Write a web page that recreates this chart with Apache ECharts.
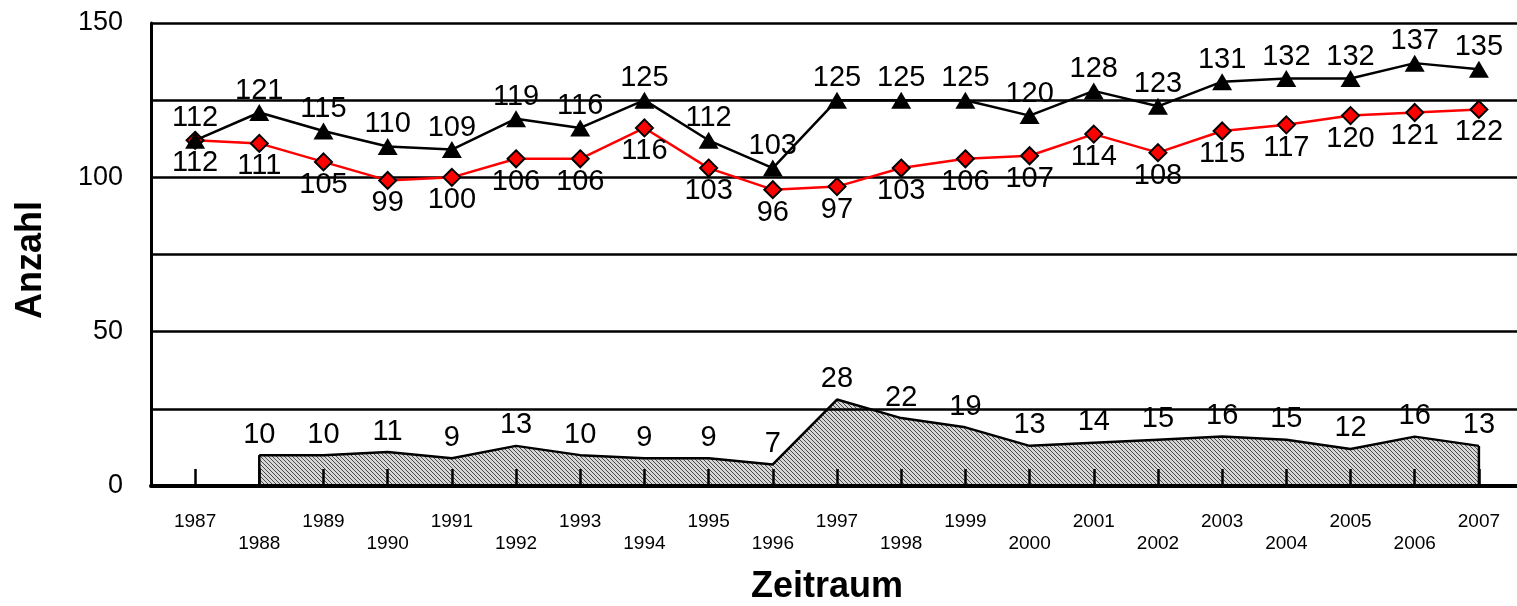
<!DOCTYPE html>
<html lang="de">
<head>
<meta charset="UTF-8">
<title>Anzahl je Zeitraum</title>
<style>
  html, body { margin: 0; padding: 0; background: #fff; }
  #chart { width: 1517px; height: 606px; }
</style>
</head>
<body>
<div id="chart"></div>
<script src="https://cdn.jsdelivr.net/npm/echarts@6/dist/echarts.min.js"></script>
<script>
// Daten
var jahre = ['1987','1988','1989','1990','1991','1992','1993','1994','1995','1996','1997',
             '1998','1999','2000','2001','2002','2003','2004','2005','2006','2007'];
var gesamt = [112,121,115,110,109,119,116,125,112,103,125,125,125,120,128,123,131,132,132,137,135];
var rot    = [112,111,105,99,100,106,106,116,103,96,97,103,106,107,114,108,115,117,120,121,122];
var flaeche = [null,10,10,11,9,13,10,9,9,7,28,22,19,13,14,15,16,15,12,16,13];
var yTicks = [0, 50, 100, 150];

var font = "'Liberation Sans', Arial, sans-serif";

// schraffur fuer die flaeche
function schraffur() {
  var c = document.createElement('canvas');
  c.width = 4; c.height = 4;
  var ctx = c.getContext('2d');
  ctx.fillStyle = '#d6d6d6';
  ctx.fillRect(0, 0, 4, 4);
  ctx.fillStyle = '#4a4a4a';
  for (var i = 0; i < 4; i++) ctx.fillRect(i, i, 1, 1);
  return c;
}

// nur erster und letzter wert -> senkrechte kanten der flaeche
var kanten = flaeche.map(function (v, i) {
  var first = flaeche.findIndex(function (x) { return x != null; });
  return (i === first || i === flaeche.length - 1) ? v : null;
});

var chart = echarts.init(document.getElementById('chart'));
var option = {
  animation: false,
  grid: [
    { left: 151, right: 0, top: 23, bottom: 120 },
    { left: 163, right: 6, top: 23, bottom: 120 }
  ],
  xAxis: [
    {
      gridIndex: 0, type: 'value', min: 0, max: 1, z: 3,
      axisLine: { show: true, lineStyle: { color: '#000', width: 4 } },
      axisTick: { show: false }, axisLabel: { show: false }, splitLine: { show: false }
    },
    {
      gridIndex: 1, type: 'category', data: jahre, boundaryGap: true, z: 3,
      axisLine: { show: false },
      axisTick: { show: true, inside: true, length: 17, alignWithLabel: true,
                  lineStyle: { color: '#000', width: 2.5 } },
      axisLabel: {
        interval: 0, margin: 25, color: '#000', fontSize: 19, fontFamily: font, lineHeight: 22,
        formatter: function (v, i) { return i % 2 ? '\n' + v : v; }
      }
    }
  ],
  yAxis: [
    {
      gridIndex: 0, type: 'value', min: 0, max: 150, interval: 25, z: 3,
      axisLine: { show: true, lineStyle: { color: '#000', width: 3 } },
      axisTick: { show: false },
      axisLabel: {
        margin: 28, color: '#000', fontSize: 27, fontFamily: font,
        formatter: function (v) { return yTicks.indexOf(v) >= 0 ? v : ''; }
      },
      splitLine: { show: true, lineStyle: { color: '#000', width: 2.5 } }
    },
    { gridIndex: 1, type: 'value', min: 0, max: 150, show: false }
  ],
  graphic: [
    { type: 'text', x: 31, y: 260, rotation: Math.PI / 2,
      style: { text: 'Anzahl', font: 'bold 36px ' + font, fill: '#000',
               textAlign: 'center', textVerticalAlign: 'middle' } },
    { type: 'text', x: 827, y: 587,
      style: { text: 'Zeitraum', font: 'bold 36px ' + font, fill: '#000',
               textAlign: 'center', textVerticalAlign: 'middle' } }
  ],
  series: [
    {
      name: 'Flaeche', type: 'line', xAxisIndex: 1, yAxisIndex: 1, z: 2,
      data: flaeche, symbol: 'circle', symbolSize: 0,
      lineStyle: { color: '#000', width: 2.5 },
      itemStyle: { color: '#000' },
      areaStyle: { color: { image: schraffur(), repetition: 'repeat' }, opacity: 1 },
      label: { show: true, position: 'top', distance: 6, color: '#000', fontSize: 29, fontFamily: font }
    },
    {
      name: 'Kanten', type: 'bar', xAxisIndex: 1, yAxisIndex: 1, z: 2,
      data: kanten, barWidth: 2.5, barGap: '-100%',
      itemStyle: { color: '#000' }
    },
    {
      name: 'Rot', type: 'line', xAxisIndex: 1, yAxisIndex: 1, z: 5,
      data: rot, symbol: 'diamond', symbolSize: 17,
      lineStyle: { color: '#ff0000', width: 2.5 },
      itemStyle: { color: '#ff0000', borderColor: '#000', borderWidth: 2 },
      label: { show: true, position: 'bottom', distance: -1, color: '#000', fontSize: 29, fontFamily: font }
    },
    {
      name: 'Gesamt', type: 'line', xAxisIndex: 1, yAxisIndex: 1, z: 6,
      data: gesamt, symbol: 'triangle', symbolSize: [20, 17],
      lineStyle: { color: '#000', width: 2.5 },
      itemStyle: { color: '#000' },
      label: { show: true, position: 'top', distance: -1, color: '#000', fontSize: 29, fontFamily: font }
    }
  ]
};
chart.setOption(option);
</script>
</body>
</html>
